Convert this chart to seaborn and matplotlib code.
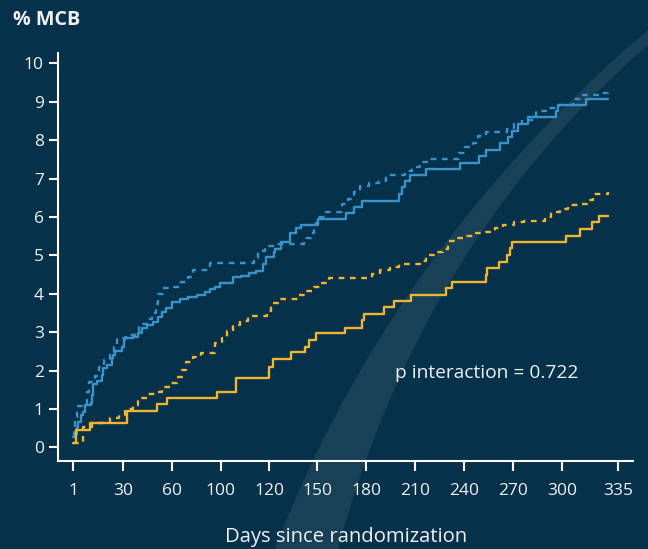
import numpy as np
import pandas as pd
import matplotlib.pyplot as plt
import seaborn as sns
from matplotlib.patches import Polygon

# Cumulative % MCB: (day, percent)
blue_solid_day = [1, 2, 3, 3.9, 5.3, 6.8, 7.8, 11.1, 12, 12.6, 14.6, 17.5, 18.4, 20.4, 23.3, 24.2,
                  25.2, 29.1, 30.6, 31, 35.8, 38.8, 41.3, 44.3, 48.4, 51.4, 53.5, 56.1, 59.6, 66.4,
                  73.2, 80.2, 87, 91.1, 95.3, 99.4, 105.2, 108.3, 111.8, 114.6, 117.4, 118.8, 123.1,
                  123.7, 127.8, 133.3, 137, 140, 149.2, 150.8, 167.6, 172.6, 177.7, 200.2, 201.8,
                  203.8, 206.7, 216.9, 237.4, 249.2, 253.3, 262, 266.9, 269.6, 273.3, 279.4, 296.6,
                  297.8, 315, 329]
blue_solid_pct = [0.28, 0.35, 0.54, 0.67, 0.84, 0.93, 1.10, 1.15, 1.36, 1.65, 1.73, 1.88, 2.06, 2.14,
                  2.32, 2.40, 2.52, 2.62, 2.79, 2.85, 2.88, 2.97, 3.10, 3.18, 3.27, 3.39, 3.53, 3.64,
                  3.79, 3.86, 3.92, 3.97, 4.05, 4.11, 4.17, 4.27, 4.43, 4.46, 4.53, 4.59, 4.77, 4.95,
                  5.09, 5.16, 5.35, 5.59, 5.70, 5.78, 5.83, 5.94, 6.11, 6.27, 6.42, 6.60, 6.77, 6.94,
                  7.08, 7.25, 7.41, 7.59, 7.74, 7.93, 8.07, 8.24, 8.41, 8.59, 8.77, 8.92, 9.08, 9.08]

blue_dash_day = [1, 1.5, 2, 3.3, 8.8, 10.1, 13.6, 16.1, 19, 22.3, 24.6, 26.5, 31.7, 37.2, 39.6, 44.3,
                 47.7, 49.8, 51, 54.5, 61.7, 67.2, 73.2, 77.3, 91.1, 113.9, 115.3, 118.3, 123.7, 142,
                 146.1, 148.2, 150.8, 155.6, 165.4, 169.1, 172.6, 176.1, 181.8, 188, 192, 203.8, 208.3,
                 212.8, 218.6, 236.9, 240.6, 245.5, 248.6, 253.3, 266.5, 270.6, 275.3, 284.3, 290,
                 296.1, 307.1, 312.3, 325.2, 329]
blue_dash_pct = [0.30, 0.54, 0.80, 1.08, 1.45, 1.71, 1.86, 2.08, 2.27, 2.40, 2.62, 2.84, 2.92, 3.03,
                 3.21, 3.34, 3.49, 3.73, 3.98, 4.14, 4.17, 4.31, 4.44, 4.62, 4.81, 4.92, 5.11, 5.24,
                 5.29, 5.46, 5.59, 5.80, 6.00, 6.12, 6.34, 6.47, 6.66, 6.80, 6.89, 6.94, 7.09, 7.20,
                 7.31, 7.44, 7.50, 7.66, 7.83, 7.92, 8.11, 8.21, 8.28, 8.41, 8.52, 8.76, 8.84, 8.91,
                 9.07, 9.18, 9.24, 9.27]

yellow_solid_day = [1, 2.4, 10.7, 32, 50.4, 56.6, 97.2, 106.5, 120.2, 122.6, 133.9, 142.7, 145.1,
                    149.2, 167.1, 177.7, 178.7, 191, 197.1, 207.3, 228.7, 232.4, 253.3, 254.2, 261.4,
                    266.5, 267.9, 269.5, 302.3, 311.3, 318.6, 323.3, 329]
yellow_solid_pct = [0.10, 0.45, 0.62, 0.95, 1.13, 1.28, 1.45, 1.80, 2.10, 2.29, 2.47, 2.62, 2.79,
                    2.97, 3.10, 3.32, 3.47, 3.65, 3.81, 3.97, 4.14, 4.31, 4.49, 4.66, 4.83, 5.00,
                    5.18, 5.34, 5.50, 5.68, 5.86, 6.02, 6.02]

yellow_dash_day = [1, 6.5, 11.7, 22.3, 27.5, 31, 36.1, 39.2, 44.3, 50, 53.9, 59.2, 63.6, 68, 71.3,
                   77.3, 83.7, 95.2, 100.4, 102.5, 105.2, 108, 111.4, 119, 121, 125.6, 138.2, 143.4,
                   148.2, 152.7, 157.4, 183.9, 188.6, 194.6, 200.3, 213, 216.6, 221.7, 227.2, 229.9,
                   235, 241.6, 247.3, 253.5, 259, 264.1, 270.6, 276.9, 289.6, 293.1, 298.8, 303.9,
                   310.8, 315.8, 319.2, 328.8]
yellow_dash_pct = [0.10, 0.54, 0.64, 0.77, 0.84, 0.99, 1.10, 1.28, 1.38, 1.44, 1.58, 1.68, 1.84,
                   2.01, 2.21, 2.34, 2.45, 2.71, 2.85, 3.04, 3.18, 3.30, 3.42, 3.56, 3.75, 3.87,
                   3.97, 4.08, 4.17, 4.29, 4.40, 4.51, 4.62, 4.69, 4.77, 4.85, 5.00, 5.09, 5.16,
                   5.38, 5.46, 5.51, 5.57, 5.62, 5.70, 5.79, 5.86, 5.89, 5.99, 6.14, 6.21, 6.31,
                   6.34, 6.44, 6.61, 6.64]

tick_days = [1, 30, 60, 100, 120, 150, 180, 210, 240, 270, 300, 335]
tick_labels = ["1", "30", "60", "100", "120", "150", "180", "210", "240", "270", "300", "335"]
y_ticks = list(range(0, 11))

# where each day tick sits along the axis (the original axis is not linear)
tick_pos = [73.3, 123.3, 172.3, 220.7, 269, 317, 366, 415, 464, 513, 562, 618]

BG = "#06314a"
BLUE = "#3a93c8"
YELLOW = "#f2b530"
FG = "#eef2f5"

series = [("blue", "solid", blue_solid_day, blue_solid_pct),
          ("blue", "dashed", blue_dash_day, blue_dash_pct),
          ("yellow", "solid", yellow_solid_day, yellow_solid_pct),
          ("yellow", "dashed", yellow_dash_day, yellow_dash_pct)]
df = pd.concat([pd.DataFrame({"day": d, "pct": p, "group": g, "arm": a})
                for g, a, d, p in series], ignore_index=True)

# piecewise-linear day axis, extended linearly beyond the end ticks
ad = np.array(tick_days, float)
ap = np.array(tick_pos, float)
s0 = (ap[1] - ap[0]) / (ad[1] - ad[0])
s1 = (ap[-1] - ap[-2]) / (ad[-1] - ad[-2])
ad = np.r_[-1000.0, ad, 2000.0]
ap = np.r_[ap[0] - s0 * (1000 + tick_days[0]), ap, ap[-1] + s1 * (2000 - tick_days[-1])]
fwd = lambda d: np.interp(d, ad, ap)
inv = lambda p: np.interp(p, ap, ad)

sns.set_style("ticks")
plt.rcParams["font.family"] = ["Open Sans", "DejaVu Sans"]

W, H = 648, 549
fig = plt.figure(figsize=(W / 100, H / 100), dpi=100, facecolor=BG)


def bezier(p0, p1, p2, n=60):
    t = np.linspace(0, 1, n)[:, None]
    p0, p1, p2 = map(np.array, (p0, p1, p2))
    return (1 - t) ** 2 * p0 + 2 * (1 - t) * t * p1 + t ** 2 * p2


# decorative swoosh in the background (pixel coords, y from top)
outer = bezier((275, 549), (390, 250), (648, 30))
inner = bezier((648, 45), (421, 243), (338, 549))
pts = np.vstack([outer, inner])
band = Polygon(np.c_[pts[:, 0] / W, 1 - pts[:, 1] / H], closed=True,
               transform=fig.transFigure, facecolor="white", alpha=0.075, edgecolor="none", zorder=-1)
fig.patches.append(band)

ax = fig.add_axes([58.3 / W, 88 / H, (633 - 58.3) / W, (461 - 53) / H])
ax.set_facecolor("none")
ax.set_xscale("function", functions=(fwd, inv))

sns.lineplot(data=df, x="day", y="pct", hue="group", style="arm",
             palette={"blue": BLUE, "yellow": YELLOW},
             dashes={"solid": "", "dashed": (2.4, 2.4)},
             estimator=None, sort=False, legend=False, drawstyle="steps-post",
             linewidth=1.7, ax=ax)

ax.set_xlim(inv(58.3), inv(633))
ax.set_ylim(-0.357, 10.27)
ax.set_xticks(tick_days)
ax.set_xticklabels(tick_labels)
ax.set_yticks(y_ticks)
ax.minorticks_off()

for side in ["top", "right"]:
    ax.spines[side].set_visible(False)
for side in ["left", "bottom"]:
    ax.spines[side].set_color("white")
    ax.spines[side].set_linewidth(1.5)
ax.tick_params(axis="both", colors="white", labelcolor=FG, width=1.5, labelsize=12.5)
ax.tick_params(axis="y", length=6.5, pad=4)
ax.tick_params(axis="x", length=7, pad=9)

ax.set_xlabel("Days since randomization", fontsize=14.6, color=FG, labelpad=20)
ax.set_ylabel("")

fig.text(13 / W, 1 - 25 / H, "% MCB", fontsize=14.2, fontweight="bold", color=FG, va="baseline")
ax.text(197.7, 1.81, "p interaction = 0.722", fontsize=13.8, color=FG, va="baseline")

fig.savefig("out.png", dpi=100, facecolor=BG)
